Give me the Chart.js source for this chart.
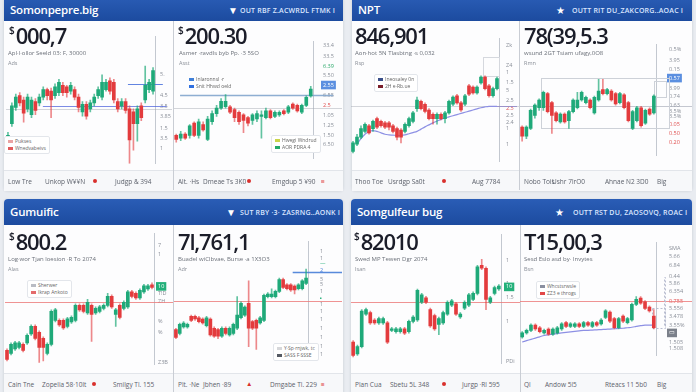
<!DOCTYPE html>
<html><head><meta charset="utf-8">
<script src="https://cdn.jsdelivr.net/npm/chart.js@4.4.0/dist/chart.umd.min.js"></script>
<style>
html,body{margin:0;padding:0;width:696px;height:392px;overflow:hidden;background:#e9ecf1;font-family:"Open Sans",sans-serif;}
.panel{position:absolute;background:#fdfdfe;border-radius:4px;box-shadow:0 1px 3px rgba(40,50,70,.18);overflow:hidden;}
.hdr{position:absolute;left:0;right:0;top:0;background:linear-gradient(#2a5db6,#1c4b9f);color:#fff;}
.htitle{position:absolute;left:6px;bottom:4px;font-size:11.5px;font-weight:600;letter-spacing:-0.2px;}
.hright{position:absolute;bottom:6px;font-size:7px;font-weight:600;color:#dbe6ff;letter-spacing:.2px;white-space:nowrap;}
.hicon{position:absolute;bottom:4px;font-size:10px;color:#fff;}
.foot{position:absolute;height:20px;background:#f7f8fa;border-top:1px solid #e2e5ea;}
.div{position:absolute;width:1px;background:#c9cdd4;}
.price{position:absolute;font-size:22px;font-weight:600;color:#1b1d29;line-height:1;letter-spacing:-1.2px;white-space:nowrap;z-index:3;}
.price .cur{font-size:10px;vertical-align:top;position:relative;top:1px;margin-right:1px;letter-spacing:0;}
.sub{position:absolute;font-size:6px;color:#6b7079;white-space:nowrap;z-index:3;}
.sub2{position:absolute;font-size:5.5px;color:#8a8f98;white-space:nowrap;z-index:3;}
.ft{position:absolute;font-size:6.5px;color:#5c616b;white-space:nowrap;z-index:3;}
.dot{position:absolute;width:4px;height:4px;border-radius:50%;background:#d9302c;z-index:3;}
.lg{position:absolute;background:#fff;border:1px solid #e3e6eb;border-radius:2px;font-size:5px;color:#666;line-height:7px;padding:1px 3px;z-index:3;white-space:nowrap;}
.lg i{display:inline-block;width:5px;height:3px;margin-right:2px;vertical-align:middle;}
canvas{position:absolute;z-index:2;}
</style></head>
<body>
<!-- panels -->
<div class="panel" style="left:4px;top:-4px;width:339px;height:194px;">
  <div class="hdr" style="height:25px;"><div class="htitle">Somonpepre.big</div><div class="hicon" style="left:224px;">&#9660;</div><div class="hright" style="left:236px;">OUT RBF Z.ACWRDL FTMK I</div></div>
</div>
<div class="panel" style="left:352px;top:-4px;width:340px;height:194px;">
  <div class="hdr" style="height:25px;"><div class="htitle">NPT</div><div class="hicon" style="left:204px;">&#9733;</div><div class="hright" style="left:220px;">OUTT RIT DU_ZAKCORG..AOAC I</div></div>
</div>
<div class="panel" style="left:4px;top:199px;width:339px;height:200px;">
  <div class="hdr" style="height:26px;"><div class="htitle" style="bottom:6px;">Gumuific</div><div class="hicon" style="left:222px;bottom:6px;">&#9660;</div><div class="hright" style="left:236px;bottom:8px;">SUT RBY ·3· ZASRNG..AONK I</div></div>
</div>
<div class="panel" style="left:351px;top:199px;width:341px;height:200px;">
  <div class="hdr" style="height:26px;"><div class="htitle" style="bottom:6px;">Somgulfeur bug</div><div class="hicon" style="left:204px;bottom:6px;">&#9733;</div><div class="hright" style="left:222px;bottom:8px;">OUTT RST DU, ZAOSOVQ, ROAC I</div></div>
</div>

<!-- footers -->
<div class="foot" style="left:4px;top:170px;width:339px;"></div>
<div class="foot" style="left:352px;top:170px;width:340px;"></div>
<div class="foot" style="left:4px;top:373px;width:339px;"></div>
<div class="foot" style="left:351px;top:373px;width:341px;"></div>

<!-- dividers -->
<div class="div" style="left:173px;top:21px;height:169px;"></div>
<div class="div" style="left:519px;top:21px;height:169px;"></div>
<div class="div" style="left:173px;top:225px;height:167px;"></div>
<div class="div" style="left:520px;top:225px;height:167px;"></div>

<!-- canvases -->
<canvas id="cv1" width="166" height="144" style="left:6px;top:28px;"></canvas>
<canvas id="cv2" width="168" height="144" style="left:174px;top:28px;"></canvas>
<canvas id="cv3" width="168" height="144" style="left:351px;top:28px;"></canvas>
<canvas id="cv4" width="172" height="144" style="left:520px;top:28px;"></canvas>
<canvas id="cv5" width="168" height="146" style="left:5px;top:226px;"></canvas>
<canvas id="cv6" width="168" height="146" style="left:174px;top:226px;"></canvas>
<canvas id="cv7" width="169" height="146" style="left:351px;top:226px;"></canvas>
<canvas id="cv8" width="172" height="146" style="left:520px;top:226px;"></canvas>

<!-- price texts -->
<div class="price" style="left:9px;top:24px;"><span class="cur">$</span>000,7</div>
<div class="sub" style="left:8px;top:49px;">Apl·I·ollor Seeld 03: F, 30000</div>
<div class="sub2" style="left:8px;top:59px;">Ads</div>

<div class="price" style="left:178px;top:24px;"><span class="cur">$</span>200.30</div>
<div class="sub" style="left:179px;top:49px;">Asmer ·ravdls byb Pp. ·3 5SO</div>
<div class="sub2" style="left:179px;top:59px;">Asst</div>

<div class="price" style="left:355px;top:24px;">846,901</div>
<div class="sub" style="left:355px;top:49px;">Aon·hot 5N Tlasbtng ·s 0,032</div>
<div class="sub2" style="left:355px;top:59px;">Rsp</div>

<div class="price" style="left:524px;top:24px;">78(39,5.3</div>
<div class="sub" style="left:524px;top:49px;">wsund 2GT Tsiam ufagy,0O8</div>
<div class="sub2" style="left:524px;top:59px;">Rmn</div>

<div class="price" style="left:9px;top:230px;"><span class="cur">$</span>800.2</div>
<div class="sub" style="left:8px;top:255px;">Log·wor Tjan loesion ·R To 2074</div>
<div class="sub2" style="left:8px;top:265px;">Alas</div>

<div class="price" style="left:178px;top:230px;">7l,761,1</div>
<div class="sub" style="left:178px;top:255px;">Buadel wiClbvae, Burse ·a 1X3O3</div>
<div class="sub2" style="left:178px;top:265px;">Adr</div>

<div class="price" style="left:354px;top:230px;"><span class="cur">$</span>82010</div>
<div class="sub" style="left:355px;top:255px;">Swed MP Tewen Dgr 2074</div>
<div class="sub2" style="left:355px;top:265px;">Isan</div>

<div class="price" style="left:524px;top:230px;">T15,00,3</div>
<div class="sub" style="left:524px;top:255px;">Sesd Eslo asd by· Invytes</div>
<div class="sub2" style="left:524px;top:265px;">Bsn</div>

<!-- legends -->
<div class="lg" style="left:4px;top:136px;"><i style="background:#e9a3a3"></i>Pukses<br><i style="background:#e15b5b"></i>Wnedvabeivs</div>
<div class="lg" style="left:185px;top:74px;border-color:transparent;background:transparent;"><i style="background:#3f7fd8"></i>Inlaronnsl ·r<br><i style="background:#2f6fe0"></i>Snit Hhwd oeld</div>
<div class="lg" style="left:271px;top:135px;"><i style="background:#c9d44a"></i>Hwegi Wndrud<br><i style="background:#22a96a"></i>AOR PDRA 4</div>
<div class="lg" style="left:374px;top:74px;"><i style="background:#3a4f8a"></i>Ineosaley 0n<br><i style="background:#7a1e2a"></i>2H e·Rb.ue</div>
<div class="lg" style="left:27px;top:280px;"><i style="background:#b9bcc4"></i>Sherwer<br><i style="background:#e46b6b"></i>Ikrap Ankoto</div>
<div class="lg" style="left:273px;top:343px;"><i style="background:#d6d7da"></i>Y·Sp·rnjwk, tc<br><i style="background:#555a63"></i>SASS F·SSSE</div>
<div class="lg" style="left:536px;top:281px;"><i style="background:#8a8fa0"></i>Whcstsrwsle<br><i style="background:#e24848"></i>ZZ3 e throgs</div>

<!-- footer texts -->
<div class="ft" style="left:8px;top:177px;">Low Tre</div>
<div class="ft" style="left:45px;top:177px;">Unkop W¥¥N</div>
<div class="dot" style="left:93px;top:179px;"></div>
<div class="ft" style="left:115px;top:177px;">Judgp &amp; 394</div>
<div class="ft" style="left:178px;top:177px;">Alt. ·Hs</div>
<div class="ft" style="left:203px;top:177px;">Dmeae Ts 3K0</div>
<div class="dot" style="left:247px;top:179px;"></div>
<div class="ft" style="left:272px;top:177px;">Emgdup 5 ¥90</div>
<div class="ft" style="left:321px;top:177px;color:#e04040;">&#8801;</div>

<div class="ft" style="left:355px;top:177px;">Thoo Toe</div>
<div class="ft" style="left:388px;top:177px;">Usrdgp Sa0t</div>
<div class="dot" style="left:442px;top:179px;"></div>
<div class="ft" style="left:472px;top:177px;">Aug 7784</div>
<div class="ft" style="left:524px;top:177px;">Nobo Tois</div>
<div class="ft" style="left:552px;top:177px;">Ushr 7lrO0</div>
<div class="ft" style="left:605px;top:177px;">Ahnae N2 3D0</div>
<div class="ft" style="left:657px;top:177px;">Big</div>

<div class="ft" style="left:8px;top:380px;">Cain Tne</div>
<div class="ft" style="left:42px;top:380px;">Zopelia 58·10lt</div>
<div class="dot" style="left:92px;top:382px;"></div>
<div class="ft" style="left:113px;top:380px;">Smilgy Tl. 155</div>
<div class="ft" style="left:178px;top:380px;">Plt. ·Ne</div>
<div class="ft" style="left:203px;top:380px;">Jbhen ·89</div>
<div class="ft" style="left:246px;top:379px;color:#d9302c;">&#9650;</div>
<div class="ft" style="left:270px;top:380px;">Dmgabe Tl. 229</div>
<div class="ft" style="left:321px;top:380px;color:#e04040;">&#8801;</div>

<div class="ft" style="left:355px;top:380px;">Plan Cua</div>
<div class="ft" style="left:390px;top:380px;">Sbetu 5L 348</div>
<div class="dot" style="left:442px;top:382px;"></div>
<div class="ft" style="left:462px;top:380px;">Jurgp ·Rl 595</div>
<div class="ft" style="left:524px;top:380px;">Ql</div>
<div class="ft" style="left:545px;top:380px;">Andow 5l5</div>
<div class="ft" style="left:605px;top:380px;">Rteacs 11 5b0</div>
<div class="ft" style="left:657px;top:380px;">Big</div>

<script>
// ---------- DATA: candles as [open, high, low, close] ----------
const c1Candles = [
[15.5,19,14,18],[22,29,21,28],[27.5,32,26.5,31],[31.5,32.5,28,29],[30,31,22.5,25.5],
[27,32,26,31],[25,31,24,30],[29.5,30.5,25,26.5],[29,32,28,31],[31,34.5,30,33.5],
[33.5,34,30,31.5],[33,34,24,30],[31.5,35.5,30.5,34.5],[32.5,37,31.5,36],[35,36,31.5,32.5],
[34.5,35,31,32.5],[33,36,32,35],[33.5,34.5,30,31],[31,32,26,27.5],[26,29.5,24.5,28.5],
[28.5,29.5,23.5,24.5],[27,30,26,29],[29,32,28,31],[31.5,34.5,30.5,33.5],[31,38.5,30,36],
[33.5,37,33,36],[36.5,37.5,32,33],[36,37,29,30],[29.5,30.5,26,27],[28,30.5,27,29.5],
[29.5,30.5,25.5,26.5],[27,28,8.5,16.5],[26,27,13,22],[22,28,16,27],[28,29,23,24],
[30,41.5,29,35],[33.5,37,32.5,36],[33,41,32,40]];
const c2Candles = [
[17,17.5,14.5,15.5],[16,18.5,15,17.5],[17.5,18,15.5,16],[17,21,16,20.5],[21.5,22,16.5,17],
[17,23,16,22],[21,22,18.5,19],[15.5,24,15,23],[22,26,21,25],[25,28,24,27],
[27,30.5,26.5,29.5],[27.5,32,27,29.5],[27.5,28,25,25.5],[26.5,27,22,23.5],[25.5,26,21,22],
[24.5,25,18,22.5],[23.5,24,20.5,21.5],[22.5,25,21,24.5],[23,26,22,25],[24,26,16,24.5],
[23.5,27,23,26],[26,26.5,23,23.5],[24,26,23.5,25.5],[24.5,26,24,25.5],[26,26.5,24.5,25],
[25.5,28,25,27.5],[28.5,29,26.5,27],[28,28.5,25.5,26],[25.5,28.5,25,28],[28,31.5,27.5,31],
[31.5,35,31,34]];
const c3Candles = [
[12,15.5,11.5,15],[14.5,18,14,17],[17,21,16.5,20],[19,22,18.5,21.5],[21,21.5,18,18.5],
[20,23,19,22.5],[23.5,24,20,20.5],[22.5,23,20.5,21],[22,22.5,20,20.5],[22,22.5,19.5,20.5],
[21,21.5,18.5,19],[20,20.5,16,17],[19.5,20,15,17],[19,22,18.5,21.5],[21,24,20.5,23.5],
[22.5,26,22,25.5],[27,31,26,30],[29.5,30,26.5,27],[28.5,29,25.5,26],[26.5,27,23,23.5],
[25,25.5,21.5,23.5],[23.5,25.5,21.5,25],[25,25.5,23,23.5],[23.5,26,22,25.5],[25.5,30,25,29.5],
[28.5,31.5,28,31],[31.5,32,28.5,29],[29,29.5,26,26.5],[28.5,32,28,31.5],[35,35.5,31.5,32],
[34.5,35,32,32.5],[32.5,35,32,34.5],[36,38.5,35.5,38],[38,38.5,33.5,34],[35,35.5,31,31.5],
[31.5,34.5,31,34],[34,38,33.5,37.5]];
const c4Candles = [
[19.5,20,14,16],[16,20,15,19.5],[19,26.5,18.5,26],[24,28.5,23,28],[27,30.5,26,30],
[27,33.5,26,33],[32.5,33,25,25.5],[29,29.5,17,24],[25,25.5,21.5,22],[21.5,25,21,24.5],
[24.5,25,21,21.5],[22,26,19,25.5],[25.5,30.5,25,30],[27,33,26.5,30],[30,33.5,29.5,33],
[29,31.5,28.5,31],[30,30.5,26.5,27],[25,31.5,24.5,31],[30,38,29.5,33.5],[34,38,32,32.5],
[32.5,34.5,32,34],[33.5,34,29.5,30],[32.5,33,28,28.5],[29,33,28.5,32.5],[32,32.5,26.5,27],
[29,29.5,21.5,22],[19,26,18.5,25.5],[22,27.5,21.5,27],[27,27.5,19.5,20],[21,26.5,20.5,26],
[26.5,27,24,24.5],[25,32,24.5,31.5]];
const c5Candles = [
[12,12.5,8.5,9],[11,14.5,10.5,14],[12.5,15,12,14.5],[13,15,12.5,14.5],[14,14.5,11.5,12],
[14.5,17.5,14,17],[17.5,20.5,17,20],[20,20.5,15.5,16],[18,18.5,8,13],[16,16.5,8.5,13],
[11,14.5,10.5,14],[14,25.5,13.5,25],[22,26,21.5,25.5],[22,22.5,20,20.5],[22,22.5,19,19.5],
[20,23,19.5,22.5],[21.5,23.5,21,23],[22,27.5,21.5,27],[27,27.5,25,25.5],[27,27.5,24.5,25],
[24.5,29,24,28],[27,27.5,15,24],[24.5,26.5,24,26],[25,27,24.5,26.5],[26,27.5,25.5,27],
[27,31,26.5,30],[30,30.5,26,26.5],[24,26,20,25.5],[27,27.5,22.5,23],[26,28.5,25.5,28],
[26.5,32,26,31.5],[31.5,32,29.5,30],[31,31.5,29,29.5],[29.5,32.5,29,32],[31.5,34,31,33.5],
[32.5,34,32,33.5],[33.8,34.5,32.5,33]];
const c6Candles = [
[17.5,18,14,14.5],[16,20,15.5,19.5],[18.5,20.5,18,20],[18.5,20,18,19.5],[22.5,23,20.5,21],
[22.5,23,21,21.5],[22,22.5,20,20.5],[21.5,22,19.5,20],[19,22.5,18.5,22],[21.5,22,15,15.5],
[18,18.5,14.5,15],[17.5,18,14,15],[15,18.5,14.5,18],[18,18.5,15.5,16],[15.5,18.5,15,18],
[16,20,15.5,19.5],[18,30,17.5,23],[22,28,21.5,27.5],[23,26.5,22.5,26],[27.5,36,11,18],
[20.5,21,17.5,18],[21,21.5,10,18],[20,22.5,19.5,22],[21,31,20.5,30.5],[30,31.5,29.5,31],
[30,33,29.5,31],[30,32.5,29.5,32],[32,37,31.5,36.5],[36.5,37,33,33.5],[34.5,35,32.5,33],
[34.5,35,32,32.5],[34,34.5,31,32.5],[33,35,32.5,34.5],[33,36.5,32.5,36],[35,40.5,34.5,37]];
const c7Candles = [
[14.5,15,9.5,10],[10.5,13.5,10,13],[13,25.5,12.5,25],[24,26,23.5,25.5],[24.5,25,20.5,21],
[22,22.5,20.5,21],[21,23,20.5,22.5],[21,23,20.5,22.5],[21,21.5,14,14.5],[18.5,19.5,18,19],
[18,19.5,17.5,19],[18,19.5,17.5,19],[19,19.5,17,17.5],[18,22,17.5,21.5],[21.5,23.5,21,23],
[22,32.5,21.5,32],[28,31,27.5,30.5],[29.5,30,27.5,28],[25.5,26,19.5,20],[23.5,24,18.5,19],
[20.5,23,17,22.5],[21,25,20.5,24.5],[24,28.5,23.5,28],[27,29,26.5,28.5],[27.5,28,23.5,24],
[23,24.5,22.5,24],[26,28.5,25.5,28],[27,31,26.5,30.5],[29,31.5,28.5,31],[31,40.5,30.5,40],
[40.5,42.5,39,39.5],[39.5,40,25.5,29],[28,30,27.5,29.5],[31,33.5,30.5,33],[32.5,34,32,33.5]];
const c8Candles = [
[14.5,16.5,14,16],[16,17.5,15.5,17],[17,19.5,16.5,19],[19,19.5,17,17.5],[18,18.5,16,16.5],
[16,17.5,15.5,17],[17.5,18,15,15.5],[15.5,18,15,17.5],[16,18.5,15.5,18],[17.5,20,17,19.5],
[20,20.5,18,18.5],[18.5,20,18,19.5],[18.5,20,18,19.5],[19.5,20,18,18.5],[18.5,20.5,18,20],
[20,20.5,18.5,19],[18.5,20.5,18,20],[20,20.5,18.5,19],[19.5,21.5,19,21],[22,25,21.5,24.5],
[24,24.5,20,20.5],[21.5,22,17.5,18],[18,22,17.5,21.5],[22.5,23,20,20.5],[20,22,19.5,21.5],
[21,27.5,20.5,27],[27,30,26.5,29],[29.5,30,27,27.5],[28,28.5,25,25.5],[26,26.5,24,24.5],
[22.5,25,17.5,18]];

// moving-average lines
const c3Ma = [null,14.5,16.5,18,19,19.3,19,18.5,18,17.8,17.7,17.6,17.6,17.8,18.2,18.6,19,19.8,20.6,21.3,
  22,22.6,23.2,23.7,24.1,24.5,24.9,25.3,25.7,26.1,26.5,26.9,27.3,27.6,27.8,27.8,27.8];
const c8Ma = [12.5,13,13.5,14,14.5,15,15.3,15.5,15.8,16,16.2,16.4,16.6,16.8,17,17,17.1,17.2,17.3,17.4,
  17.5,17.6,17.7,17.8,18,18.2,18.5,18.8,19,19,19];

// horizontal reference levels
const c1Levels = [27.8, 35.3, 27.0];
const c2Levels = [32.0, 27.0];
const c3Levels = [27.8];
const c4Levels = [27.8];
const c5Levels = [28.2];
const c6Levels = [28.2, 39.5];
const c7Levels = [28.2];
const c8Levels = [28.2];

// y-axis ticks (values and labels)
const c1TickVals = [38.5, 31.5, 27.8, 24.5, 20.5, 17, 13.5];
const c1TickLabels = ["5.", "4.5", "3.5", "3.85", "1.5", "3.5", "1"];
const c2TickVals = [50, 46, 42.2, 39, 35.5, 31.8, 28, 24.5, 20.7, 17, 13.5];
const c2TickLabels = ["33.4", "33.5", "6.39", "5.50", "2.55", "6.55", "2.5", "1.05", "1.25", "1.50", "6.50"];
const c3TickVals = [49, 42, 39.5, 36.2, 33.5, 30, 27.2, 24.5, 22.2, 20, 14.5];
const c3TickLabels = ["Zk", "Z4", "1", "1.5", "5", "2.5", "2.5", "2.5", "2.4", "1", "1"];
const c4TickVals = [49.5, 45.5, 42, 38.5, 34.5, 31.5, 27.8, 25.5, 23.8, 20.5, 17, 13.5];
const c4TickLabels = ["0.5%", "3.95", "0.15", "0.57", "3.99", "0.74", "0.63", "3.5%", "3.5%", "0.05", "0.50", "0.20"];
const c5TickVals = [47, 44, 33.3, 31, 28.2, 21.5, 18, 8];
const c5TickLabels = ["7", "1", "10", "T!D", "ZH", "%", "%", "Z3B"];
const c6TickVals = [47, 44.5, 42.5, 40, 36.5, 34.5, 32, 29.5, 27, 24.5, 21.5, 18, 14.5, 11, 8];
const c6TickLabels = ["1", "1", "—", "2", "5", "5", "1", "▪", "1", "1", "1", "1", "1", "1", "1"];
const c7TickVals = [42, 34.5, 33.2, 29.5, 21.5, 8];
const c7TickLabels = ["1", "1", "10", "1.5", "1", "PDi"];
const c8TickVals = [48.5, 45.5, 42, 38, 35, 32, 28.2, 25.5, 22.2, 19, 16, 12.5, 10];
const c8TickLabels = ["SMA", "5.66", "6.84", "0.44", "5.86", "6.354", "0.755", "5.556", "3.478", "3.55%", "▭", "1.505", "1.508"];

// boxes: [xStartIndex, xEndIndex, yTop, yBottom]
const c3Boxes = [[32.4, 36.4, 45, 38.5]];
const c4Boxes = [[4.4, 34.6, 38.5, 19], [31, 33.8, 37.5, 31]];
const c8Boxes = [[29.5, 32.6, 25.5, 18], [32.3, 32.5, 37.5, 18.5]];

// ---------- RENDERING ----------
const GREEN = '#1fa979', RED = '#e33b3d';
const GREEN_W = 'rgba(31,169,121,0.7)', RED_W = 'rgba(227,59,61,0.6)';

const overlayPlugin = {
  id: 'overlay',
  beforeDatasetsDraw(chart, args, o) {
    const {ctx, scales: {x, y}} = chart;
    (o.lines || []).forEach(l => {
      ctx.save();
      ctx.strokeStyle = l.color; ctx.lineWidth = l.w || 1; ctx.setLineDash(l.dash || []);
      const py = Math.round(y.getPixelForValue(l.v)) + 0.5;
      ctx.beginPath();
      ctx.moveTo(x.getPixelForValue(l.x0), py);
      ctx.lineTo(x.getPixelForValue(l.x1), py);
      ctx.stroke();
      ctx.restore();
    });
    (o.boxes || []).forEach(b => {
      ctx.save();
      ctx.strokeStyle = b.color; ctx.lineWidth = 1; ctx.setLineDash(b.dash || []);
      const x0 = Math.round(x.getPixelForValue(b.r[0])) + 0.5, x1 = Math.round(x.getPixelForValue(b.r[1])) + 0.5;
      const y0 = Math.round(y.getPixelForValue(b.r[2])) + 0.5, y1 = Math.round(y.getPixelForValue(b.r[3])) + 0.5;
      ctx.strokeRect(x0, y0, x1 - x0, y1 - y0);
      ctx.restore();
    });
  }
};

function makeChart(id, candles, cfg) {
  const datasets = [
    {type: 'bar', data: candles.map(k => [k[2], k[1]]),
     backgroundColor: candles.map(k => k[3] >= k[0] ? GREEN_W : RED_W),
     barThickness: 1, grouped: false, order: 2},
    {type: 'bar', data: candles.map(k => [k[0], k[3]]),
     backgroundColor: candles.map(k => k[3] >= k[0] ? GREEN : RED),
     barThickness: 3, grouped: false, minBarLength: 1, order: 1}
  ];
  if (cfg.ma) datasets.push({type: 'line', data: cfg.ma, borderColor: '#8d90e4', borderWidth: 1.2,
    pointRadius: 0, tension: 0.4, order: 3, spanGaps: true});
  const tickColors = cfg.tickColors || {};
  const tickBadges = cfg.tickBadges || {};
  new Chart(document.getElementById(id), {
    type: 'bar',
    data: {labels: candles.map((_, i) => i), datasets},
    options: {
      responsive: false, animation: false, devicePixelRatio: 1,
      layout: {padding: 0, autoPadding: false},
      plugins: {legend: {display: false}, tooltip: {enabled: false},
        overlay: {lines: cfg.lines, boxes: cfg.boxes}},
      scales: {
        x: {display: false, offset: true, grid: {display: false}},
        y: {
          position: 'right', min: cfg.min, max: cfg.max,
          afterFit(s) { s.width = cfg.axisW; },
          afterBuildTicks(s) { s.ticks = cfg.tickVals.map(v => ({value: v})); },
          grid: {display: false, drawTicks: false},
          border: {display: true, dash: [1, 3], color: '#c3c8d0'},
          ticks: {
            autoSkip: false, padding: cfg.pad, font: {size: 5.5, family: 'Open Sans'},
            color: c => tickBadges[c.index] ? '#ffffff' : (tickColors[c.index] || '#8a8f99'),
            callback: (v, i) => cfg.tickLabels[i],
            showLabelBackdrop: true,
            backdropColor: c => tickBadges[c.index] || 'rgba(0,0,0,0)',
            backdropPadding: {x: 2, y: 1}
          }
        }
      }
    },
    plugins: [overlayPlugin]
  });
}

const FULL0 = -6, FULL1 = 60;
makeChart('cv1', c1Candles, {min: 8.4, max: 51.6, axisW: 17, pad: 5,
  tickVals: c1TickVals, tickLabels: c1TickLabels,
  lines: [
    {v: c1Levels[2], x0: FULL0, x1: FULL1, color: 'rgba(160,165,175,0.45)'},
    {v: c1Levels[0], x0: 8.9, x1: 40.5, color: 'rgba(80,100,220,0.75)', w: 1},
    {v: c1Levels[1], x0: 30.6, x1: 39.5, color: 'rgba(70,110,220,0.85)', w: 1.2}
  ]});
makeChart('cv2', c2Candles, {min: 8.4, max: 51.6, axisW: 29, pad: 10,
  tickVals: c2TickVals, tickLabels: c2TickLabels,
  tickColors: {2: '#2aa86a', 6: '#e05050'}, tickBadges: {4: '#5b8fe0'},
  lines: [
    {v: c2Levels[1], x0: FULL0, x1: FULL1, color: 'rgba(160,165,175,0.45)'},
    {v: c2Levels[0], x0: 0.85, x1: 35, color: 'rgba(130,165,205,0.9)', w: 1.5}
  ]});
makeChart('cv3', c3Candles, {min: 8.4, max: 51.6, axisW: 20, pad: 7,
  tickVals: c3TickVals, tickLabels: c3TickLabels, tickColors: {6: '#e05050'},
  ma: c3Ma,
  lines: [
    {v: c3Levels[0], x0: FULL0, x1: FULL1, color: 'rgba(160,165,175,0.45)'},
    {v: c3Levels[0], x0: 34, x1: 41, color: 'rgba(150,140,200,0.9)', w: 1}
  ],
  boxes: c3Boxes.map(r => ({r, color: '#d5d8de'}))});
makeChart('cv4', c4Candles, {min: 8.4, max: 51.6, axisW: 36, pad: 13,
  tickVals: c4TickVals, tickLabels: c4TickLabels,
  tickColors: {9: '#e05050', 10: '#e05050', 11: '#e05050'}, tickBadges: {3: '#5b8fe0'},
  lines: [{v: c4Levels[0], x0: FULL0, x1: FULL1, color: 'rgba(150,155,170,0.55)'}],
  boxes: c4Boxes.map(r => ({r, color: '#cdd1d8'}))});
makeChart('cv5', c5Candles, {min: 7.2, max: 51, axisW: 19, pad: 4,
  tickVals: c5TickVals, tickLabels: c5TickLabels, tickBadges: {2: '#23b07a'},
  lines: [{v: c5Levels[0], x0: FULL0, x1: FULL1, color: 'rgba(235,120,120,0.8)'}]});
makeChart('cv6', c6Candles, {min: 7.2, max: 51, axisW: 34, pad: 12,
  tickVals: c6TickVals, tickLabels: c6TickLabels,
  tickColors: {2: '#23b07a', 3: '#4a7fd8', 7: '#23b07a'},
  lines: [
    {v: c6Levels[0], x0: FULL0, x1: FULL1, color: 'rgba(235,120,120,0.8)'},
    {v: c6Levels[1], x0: 30.5, x1: 45, color: 'rgba(70,125,215,0.9)', w: 1.3}
  ]});
makeChart('cv7', c7Candles, {min: 7.2, max: 51, axisW: 19, pad: 5,
  tickVals: c7TickVals, tickLabels: c7TickLabels, tickBadges: {2: '#23b07a'},
  lines: [{v: c7Levels[0], x0: FULL0, x1: FULL1, color: 'rgba(235,120,120,0.8)'}]});
makeChart('cv8', c8Candles, {min: 7.2, max: 51, axisW: 36, pad: 13,
  tickVals: c8TickVals, tickLabels: c8TickLabels, tickColors: {6: '#e05050'}, tickBadges: {10: '#7b808a'},
  ma: c8Ma,
  lines: [{v: c8Levels[0], x0: FULL0, x1: FULL1, color: 'rgba(235,120,120,0.8)'}],
  boxes: c8Boxes.map(r => ({r, color: '#b8bdd0', dash: [2, 2]}))});
</script>
</body></html>
